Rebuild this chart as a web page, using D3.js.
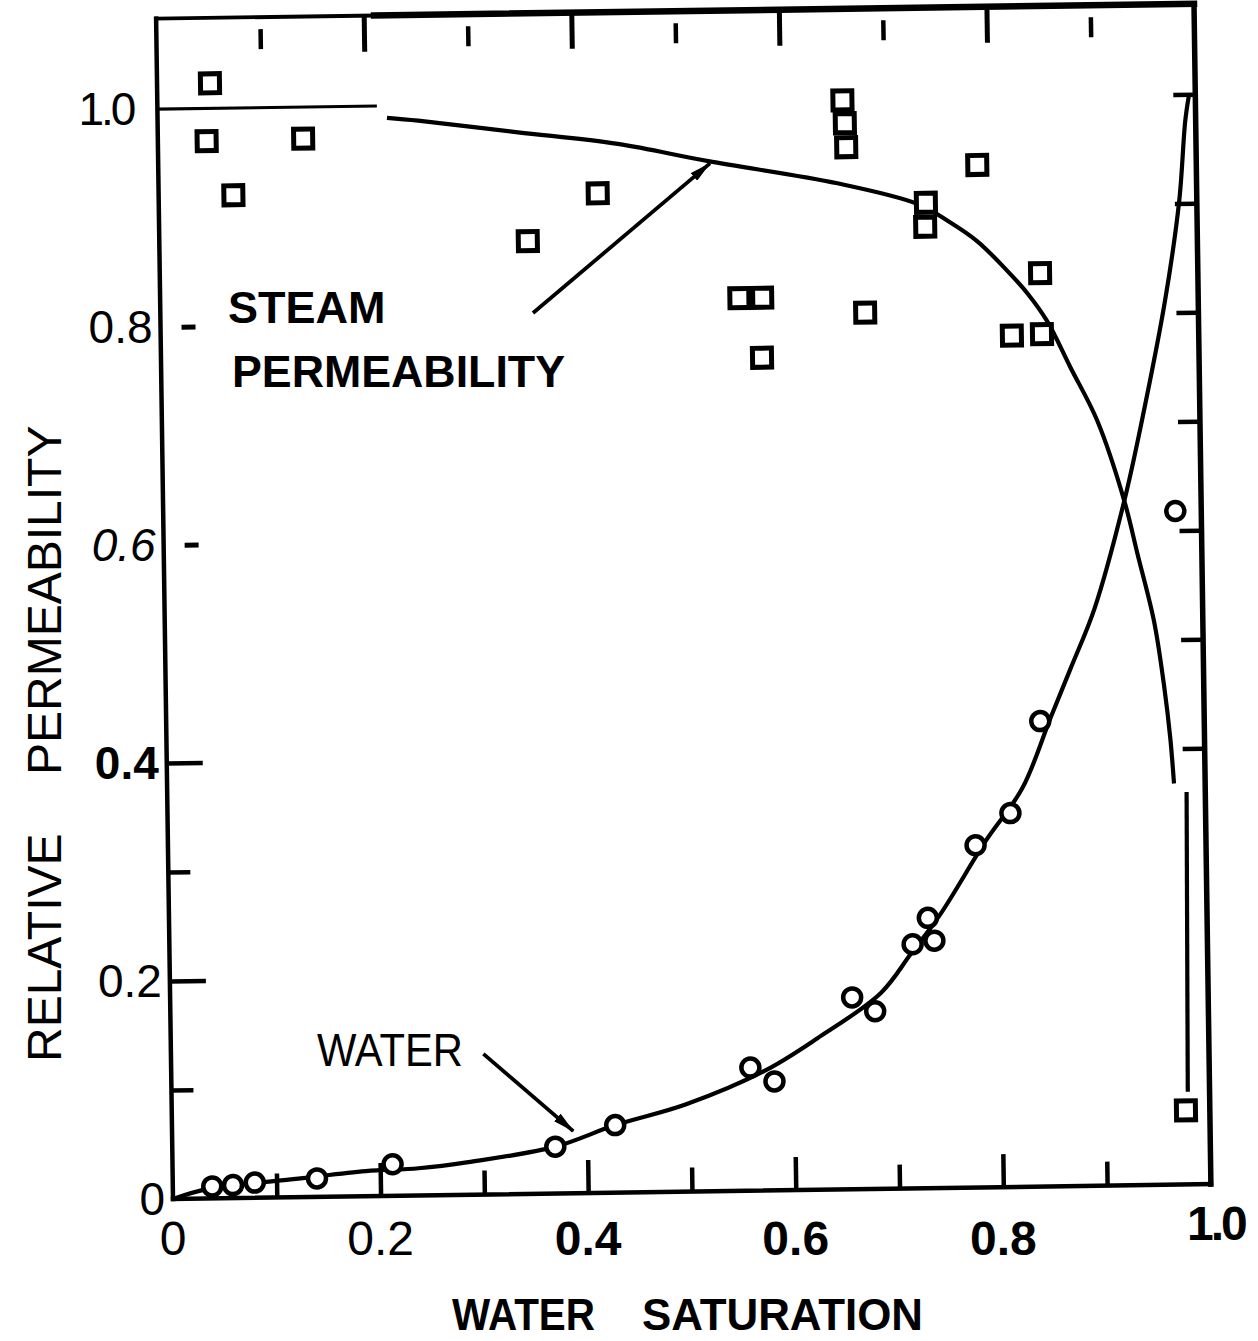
<!DOCTYPE html>
<html>
<head>
<meta charset="utf-8">
<script src="https://cdn.jsdelivr.net/npm/d3@7"></script>
<style>
  body { margin: 0; background: #fff; }
  text { fill: #000; }
</style>
</head>
<body>
<svg id="chart" width="1258" height="1341"></svg>
<script>
// ---- measured data: relative permeability vs. water saturation ----
// steam relative permeability (squares): [water saturation, k_r]
const steamPoints = [
  [0.051, 1.023], [0.047, 0.970], [0.072, 0.920], [0.140, 0.971],
  [0.355, 0.874], [0.423, 0.917], [0.558, 0.819], [0.580, 0.819],
  [0.579, 0.764], [0.660, 0.999], [0.662, 0.978], [0.663, 0.956],
  [0.679, 0.804], [0.739, 0.904], [0.738, 0.882], [0.789, 0.938],
  [0.848, 0.838], [0.820, 0.781], [0.849, 0.782], [0.977, 0.068]
];
// water relative permeability (circles)
const waterPoints = [
  [0.038, 0.011], [0.058, 0.012], [0.079, 0.014], [0.139, 0.017],
  [0.212, 0.029], [0.369, 0.043], [0.427, 0.062], [0.558, 0.113],
  [0.581, 0.100], [0.657, 0.176], [0.679, 0.163], [0.716, 0.224],
  [0.731, 0.248], [0.737, 0.227], [0.778, 0.314], [0.812, 0.343],
  [0.842, 0.427], [0.975, 0.618]
];
// hand-fitted curves
const steamCurve = [
  [0.221, 0.989], [0.251, 0.986], [0.347, 0.974], [0.443, 0.962],
  [0.530, 0.945], [0.654, 0.923], [0.731, 0.903], [0.760, 0.887],
  [0.788, 0.868], [0.814, 0.843], [0.836, 0.819], [0.854, 0.794],
  [0.876, 0.751], [0.901, 0.702], [0.926, 0.628], [0.938, 0.579],
  [0.953, 0.517], [0.962, 0.456], [0.967, 0.410], [0.970, 0.368]
];
// steep tail of the steam curve down to the last measurement
const steamTail = [[0.982, 0.360], [0.979, 0.085]];
const waterCurve = [
  [0.000, 0.000], [0.035, 0.009], [0.121, 0.017], [0.186, 0.023],
  [0.237, 0.025], [0.285, 0.030], [0.369, 0.043], [0.427, 0.062],
  [0.495, 0.080], [0.572, 0.110], [0.623, 0.139], [0.685, 0.180],
  [0.714, 0.215], [0.743, 0.251], [0.788, 0.318], [0.824, 0.366],
  [0.852, 0.430], [0.872, 0.475], [0.896, 0.530], [0.926, 0.628],
  [0.944, 0.701], [0.968, 0.811], [0.983, 0.902], [0.990, 0.976],
  [0.994, 1.000]
];
// annotation arrows [from, to]
const steamArrow = [[0.359, 0.808], [0.5315, 0.943]];
const waterArrow = [[0.301, 0.129], [0.3865, 0.057]];

// axis ticks and labels
const xMajorTicks = [0.2, 0.4, 0.6, 0.8];
const xMinorTicks = [0.1, 0.3, 0.5, 0.7, 0.9];
const xTickValues = [0, 0.2, 0.4, 0.6, 0.8, 1.0];
const xTickLabels = ["0", "0.2", "0.4", "0.6", "0.8", "1.0"];
const yTickValues = [0, 0.2, 0.4, 0.6, 0.8, 1.0];
const yTickLabels = ["0", "0.2", "0.4", "0.6", "0.8", "1.0"];
const leftLongTicks = [0.2, 0.4];
const leftShortTicks = [0.1, 0.3];
const leftDashTicks = [0.6, 0.8];
const rightTicks = [0.4, 0.5, 0.6, 0.7, 0.8, 0.9, 1.0];

// ---- layout ----
const svg = d3.select("#chart");
svg.append("rect").attr("width", 1258).attr("height", 1341).attr("fill", "#fff");

const origin = { x: 173, y: 1199 };
const tilt = -0.82;               // degrees; the plot box sits slightly skewed
const rad = tilt * Math.PI / 180;
const yTop = 1.083;

const x = d3.scaleLinear().domain([0, 1]).range([0, 1038]);
const y = d3.scaleLinear().domain([0, 1]).range([0, -1090]);

function toScreen(xv, yv) {
  const u = x(xv), v = y(yv);
  return [origin.x + u * Math.cos(rad) - v * Math.sin(rad),
          origin.y + u * Math.sin(rad) + v * Math.cos(rad)];
}

const plot = svg.append("g")
  .attr("transform", `translate(${origin.x},${origin.y}) rotate(${tilt})`);

// ---- frame ----
function seg(x1, y1, x2, y2, w) {
  plot.append("line")
    .attr("x1", x(x1)).attr("y1", y(y1)).attr("x2", x(x2)).attr("y2", y(y2))
    .attr("stroke", "#000").attr("stroke-width", w).attr("stroke-linecap", "square");
}
seg(0, 0, 0, yTop, 4.5);          // left
seg(0, 0, 1, 0, 4.5);             // bottom
seg(1, 0, 1, yTop, 5.5);          // right
seg(0, yTop, 0.21, yTop, 3.8);    // top (thin part)
seg(0.21, yTop, 1, yTop, 6.5);    // top (heavy part)
seg(0, 1.0, 0.21, 1.0, 3);        // 1.0 guide line

// ---- ticks drawn with d3 axes ----
function tickAxis(axis, transform, width) {
  const g = plot.append("g").attr("transform", transform).call(axis);
  g.select(".domain").remove();
  g.selectAll(".tick line").attr("stroke", "#000").attr("stroke-width", width);
  g.selectAll(".tick text").remove();
  return g;
}
// bottom (ticks pointing up into the plot)
tickAxis(d3.axisTop(x).tickValues(xMajorTicks).tickSize(33), "translate(0,0)", 4.5);
tickAxis(d3.axisTop(x).tickValues(xMinorTicks).tickSize(24), "translate(0,0)", 4.5);
// top (ticks hanging down)
tickAxis(d3.axisBottom(x).tickValues(xMajorTicks).tickSize(36), `translate(0,${y(yTop)})`, 5);
tickAxis(d3.axisBottom(x).tickValues(xMinorTicks).tickSize(20), `translate(0,${y(yTop) + 12})`, 4.5);
// left
tickAxis(d3.axisRight(y).tickValues(leftLongTicks).tickSize(36), "translate(0,0)", 4.5);
tickAxis(d3.axisRight(y).tickValues(leftShortTicks).tickSize(22), "translate(0,0)", 4.5);
tickAxis(d3.axisRight(y).tickValues(leftDashTicks).tickSize(14), "translate(21,0)", 5);
// right
tickAxis(d3.axisLeft(y).tickValues(rightTicks).tickSize(22), `translate(${x(1)},0)`, 4.5);

// ---- curves ----
const line = d3.line()
  .x(d => x(d[0])).y(d => y(d[1]))
  .curve(d3.curveCatmullRom.alpha(0.5));

[steamCurve, steamTail, waterCurve].forEach(c => {
  plot.append("path").datum(c).attr("d", line)
    .attr("fill", "none").attr("stroke", "#000").attr("stroke-width", 4.2);
});

// ---- arrows ----
const defs = svg.append("defs");
defs.append("marker")
  .attr("id", "head").attr("markerUnits", "userSpaceOnUse")
  .attr("viewBox", "0 -5 22 10").attr("refX", 21).attr("refY", 0)
  .attr("markerWidth", 22).attr("markerHeight", 10).attr("orient", "auto")
  .append("path").attr("d", "M0,-5 L22,0 L0,5 Z").attr("fill", "#000");

[steamArrow, waterArrow].forEach(a => {
  plot.append("line")
    .attr("x1", x(a[0][0])).attr("y1", y(a[0][1]))
    .attr("x2", x(a[1][0])).attr("y2", y(a[1][1]))
    .attr("stroke", "#000").attr("stroke-width", 3.8)
    .attr("marker-end", "url(#head)");
});

// ---- markers ----
const sq = 19;
plot.selectAll("rect.steam").data(steamPoints).join("rect")
  .attr("class", "steam")
  .attr("x", d => x(d[0]) - sq / 2).attr("y", d => y(d[1]) - sq / 2)
  .attr("width", sq).attr("height", sq)
  .attr("fill", "#fff").attr("stroke", "#000").attr("stroke-width", 5);

plot.selectAll("circle.water").data(waterPoints).join("circle")
  .attr("class", "water")
  .attr("cx", d => x(d[0])).attr("cy", d => y(d[1])).attr("r", 9)
  .attr("fill", "#fff").attr("stroke", "#000").attr("stroke-width", 4.5);

// ---- tick labels ----
const font = "'Liberation Sans', Arial, sans-serif";
const xLabelBold = new Set(["0.4", "0.6", "0.8", "1.0"]);
xTickValues.forEach((v, i) => {
  const p = toScreen(v, 0);
  const lab = xTickLabels[i];
  svg.append("text")
    .attr("x", p[0] + (lab === "1.0" ? 5 : 0))
    .attr("y", lab === "1.0" ? 1240 : 1255)
    .attr("text-anchor", "middle")
    .attr("font-family", font).attr("font-size", 48)
    .attr("font-weight", xLabelBold.has(lab) ? "bold" : "normal")
    .attr("letter-spacing", lab === "1.0" ? -3 : 0)
    .text(lab);
});

yTickValues.forEach((v, i) => {
  const p = toScreen(0, v);
  const lab = yTickLabels[i];
  svg.append("text")
    .attr("x", p[0] - (lab === "1.0" ? 24 : 8))
    .attr("y", p[1] + 16)
    .attr("text-anchor", "end")
    .attr("font-family", font).attr("font-size", 46)
    .attr("font-style", lab === "0.6" ? "italic" : "normal")
    .attr("font-weight", lab === "0.4" ? "bold" : "normal")
    .attr("letter-spacing", lab === "1.0" ? -3 : 0)
    .text(lab);
});

// ---- axis titles ----
svg.append("text")
  .attr("transform", "translate(61,1062) rotate(-90)")
  .attr("font-family", font).attr("font-size", 48)
  .text("RELATIVE");
svg.append("text")
  .attr("transform", "translate(61,775) rotate(-90)")
  .attr("font-family", font).attr("font-size", 48)
  .text("PERMEABILITY");

svg.append("text")
  .attr("x", 452).attr("y", 1330)
  .attr("font-family", font).attr("font-size", 44).attr("font-weight", "bold")
  .attr("textLength", 143).attr("lengthAdjust", "spacingAndGlyphs")
  .text("WATER");
svg.append("text")
  .attr("x", 642).attr("y", 1330)
  .attr("font-family", font).attr("font-size", 44).attr("font-weight", "bold")
  .attr("textLength", 281).attr("lengthAdjust", "spacingAndGlyphs")
  .text("SATURATION");

// ---- curve annotations ----
svg.append("text")
  .attr("x", 228).attr("y", 323)
  .attr("font-family", font).attr("font-size", 45).attr("font-weight", "bold")
  .text("STEAM");
svg.append("text")
  .attr("x", 232).attr("y", 387)
  .attr("font-family", font).attr("font-size", 45).attr("font-weight", "bold")
  .attr("textLength", 333).attr("lengthAdjust", "spacingAndGlyphs")
  .text("PERMEABILITY");
svg.append("text")
  .attr("x", 317).attr("y", 1066)
  .attr("font-family", font).attr("font-size", 46)
  .attr("textLength", 146).attr("lengthAdjust", "spacingAndGlyphs")
  .text("WATER");
</script>
</body>
</html>
